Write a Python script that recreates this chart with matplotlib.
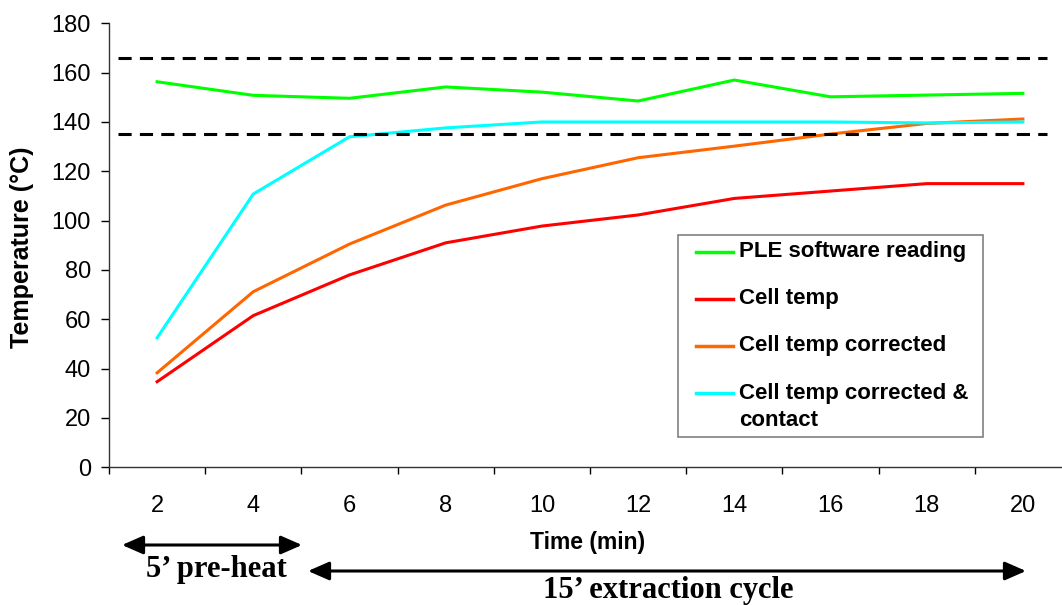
import matplotlib
matplotlib.use("Agg")
import matplotlib.pyplot as plt
from matplotlib.lines import Line2D
from matplotlib.patches import Rectangle

plt.rcParams['font.family'] = ['Liberation Sans', 'DejaVu Sans']

# data
times = [2, 4, 6, 8, 10, 12, 14, 16, 18, 20]
ple_reading = [156.3, 150.8, 149.6, 154.2, 152.1, 148.5, 157.0, 150.2, 150.9, 151.6]
cell_temp = [34.7, 61.5, 78.0, 91.0, 97.8, 102.3, 109.0, 112.0, 115.0, 115.0]
cell_corr = [38.3, 71.2, 90.5, 106.3, 117.0, 125.5, 130.2, 135.1, 139.4, 141.2]
cell_corr_contact = [52.5, 110.8, 134.0, 137.6, 140.0, 140.0, 140.0, 140.0, 139.6, 140.0]
series_names = ['PLE software reading', 'Cell temp', 'Cell temp corrected',
                'Cell temp corrected &\ncontact']
series_colors = ['#00FF00', '#FF0000', '#FF6600', '#00FFFF']
limits = [166, 135]

W, H = 1062, 605
fig = plt.figure(figsize=(W / 100, H / 100), dpi=100)
ax = fig.add_axes([109 / W, 137.7 / H, 962 / W, 444 / H])

x = list(range(len(times)))
for vals, name, col in zip([ple_reading, cell_temp, cell_corr, cell_corr_contact],
                           series_names, series_colors):
    ax.plot(x, vals, color=col, lw=2.2, label=name)

# dashed temperature limits
for v in limits:
    ax.hlines(v, -0.41, 9.25, colors='black', lw=2.2, linestyles=(0, (4.3, 2.7)))

ax.set_xlim(-0.5, 9.5)
ax.set_ylim(0, 180)
ax.set_yticks(range(0, 181, 20))
# ticks between categories, labels on the categories (excel style)
ax.set_xticks([i - 0.5 for i in range(len(times) + 1)])
ax.set_xticklabels([])
ax.set_xticks(x, minor=True)
ax.set_xticklabels([str(t) for t in times], minor=True)
ax.tick_params(axis='y', direction='out', length=6, width=1, labelsize=17, pad=7)
ax.tick_params(axis='x', which='major', direction='out', length=5, width=1)
ax.tick_params(axis='x', which='minor', length=0, labelsize=17, pad=20)
for s in ['top', 'right']:
    ax.spines[s].set_visible(False)
for s in ['left', 'bottom']:
    ax.spines[s].set_color('#333333')
    ax.spines[s].set_linewidth(1)

fig.text(22 / W, 1 - 247 / H, 'Temperature (°C)', rotation=90, fontsize=18,
         fontweight='bold', ha='center', va='center')
fig.text(588 / W, 1 - 542 / H, 'Time (min)', fontsize=16.5, fontweight='bold',
         ha='center', va='center')

# legend box, laid out like the original (handle beside the first line)
fig.add_artist(Rectangle((678, H - 437), 305, 202, transform=None, fill=True,
                         facecolor='white', edgecolor='#808080', lw=1.2, zorder=5))
rows_y = [251.7, 299, 346, 393]
for yy, name, col in zip(rows_y, series_names, series_colors):
    fig.add_artist(Line2D([696, 733], [H - yy, H - yy], transform=None, color=col,
                          lw=2.5, zorder=6))
    for k, line in enumerate(name.split('\n')):
        fig.text(739 / W, (H - yy - 28 * k) / H, line, fontsize=16,
                 fontweight='bold', ha='left', va='center', zorder=7)

# phase arrows below the axis
arrow_kw = dict(arrowstyle='<|-|>,head_length=0.8,head_width=0.35', color='black',
                lw=2.2, shrinkA=0, shrinkB=0, mutation_scale=16)
ax.annotate('', xy=(302, H - 545), xytext=(122, H - 545), xycoords='figure pixels',
            textcoords='figure pixels', arrowprops=arrow_kw)
ax.annotate('', xy=(1026, H - 571), xytext=(308, H - 571), xycoords='figure pixels',
            textcoords='figure pixels', arrowprops=arrow_kw)
fig.text(216 / W, (H - 577) / H, '5’ pre-heat', family='Liberation Serif',
         fontweight='bold', fontsize=22, ha='center', va='baseline')
fig.text(668 / W, (H - 598) / H, '15’ extraction cycle', family='Liberation Serif',
         fontweight='bold', fontsize=22, ha='center', va='baseline')

fig.savefig('out.png', dpi=100)
